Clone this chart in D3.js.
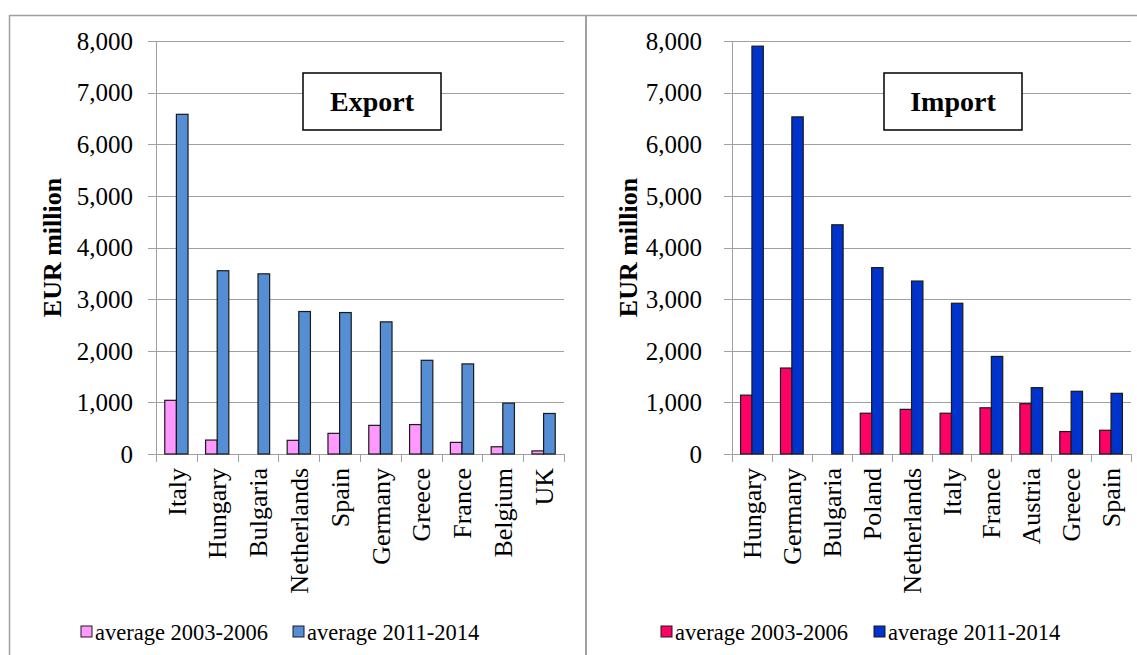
<!DOCTYPE html>
<html>
<head>
<meta charset="utf-8">
<script src="https://cdn.jsdelivr.net/npm/d3@7"></script>
<style>
  html, body { margin: 0; padding: 0; background: #fff; }
  svg { display: block; }
  text { font-family: "Liberation Serif", "Times New Roman", serif; fill: #000; }
</style>
</head>
<body>
<svg id="chart" width="1137" height="655"></svg>
<script>
// ---------- data ----------
const exportCategories = ["Italy", "Hungary", "Bulgaria", "Netherlands", "Spain", "Germany", "Greece", "France", "Belgium", "UK"];
const exportAvg2003_2006 = [1040, 270, null, 265, 400, 555, 570, 225, 140, 60];
const exportAvg2011_2014 = [6580, 3550, 3490, 2760, 2740, 2560, 1815, 1745, 985, 785];

const importCategories = ["Hungary", "Germany", "Bulgaria", "Poland", "Netherlands", "Italy", "France", "Austria", "Greece", "Spain"];
const importAvg2003_2006 = [1140, 1665, null, 790, 865, 790, 895, 975, 435, 460];
const importAvg2011_2014 = [7900, 6530, 4440, 3610, 3350, 2920, 1890, 1285, 1215, 1175];

const yTicks = [0, 1000, 2000, 3000, 4000, 5000, 6000, 7000, 8000];
const seriesNames = ["average 2003-2006", "average 2011-2014"];
const yTitle = "EUR million";

const svg = d3.select("#chart");

// frame lines (table-like borders)
svg.append("line").attr("x1", 9).attr("x2", 1137).attr("y1", 15.5).attr("y2", 15.5)
  .attr("stroke", "#a0a0a0").attr("stroke-width", 1.5);
svg.append("line").attr("x1", 9.5).attr("x2", 9.5).attr("y1", 15).attr("y2", 655)
  .attr("stroke", "#a0a0a0").attr("stroke-width", 1.5);
svg.append("line").attr("x1", 586).attr("x2", 586).attr("y1", 15).attr("y2", 655)
  .attr("stroke", "#a0a0a0").attr("stroke-width", 2);

function drawPanel(cfg) {
  const x = d3.scaleBand().domain(cfg.categories).range([cfg.x0, cfg.x1]).padding(0);
  const bw = x.bandwidth();
  const barW = bw * 0.285;
  const xs = d3.scaleBand().domain([0, 1]).range([bw / 2 - barW, bw / 2 + barW]).padding(0);
  const y = d3.scaleLinear().domain([0, 8000]).range([454, 41]);

  const g = svg.append("g");

  // gridlines
  g.selectAll("line.grid").data(yTicks).join("line")
    .attr("x1", cfg.x0 - 8).attr("x2", cfg.x1)
    .attr("y1", d => Math.round(y(d)) + 0.5).attr("y2", d => Math.round(y(d)) + 0.5)
    .attr("stroke", "#a0a0a0").attr("stroke-width", 1);

  // y axis line
  g.append("line").attr("x1", cfg.x0 + 0.5).attr("x2", cfg.x0 + 0.5)
    .attr("y1", y(8000)).attr("y2", y(0))
    .attr("stroke", "#a0a0a0").attr("stroke-width", 1);

  // x tick marks (category boundaries)
  const bounds = cfg.categories.map(c => x(c)).concat([cfg.x1]);
  g.selectAll("line.xt").data(bounds).join("line")
    .attr("x1", d => Math.round(d) + 0.5).attr("x2", d => Math.round(d) + 0.5)
    .attr("y1", y(0)).attr("y2", y(0) + 8)
    .attr("stroke", "#a0a0a0").attr("stroke-width", 1);

  // y tick labels
  g.selectAll("text.yl").data(yTicks).join("text")
    .attr("x", cfg.labelX).attr("y", d => y(d))
    .attr("dy", "0.35em").attr("text-anchor", "end")
    .attr("font-size", 25)
    .text(d => d3.format(",")(d));

  // y axis title
  g.append("text")
    .attr("transform", `translate(${cfg.titleX},${(y(0) + y(8000)) / 2}) rotate(-90)`)
    .attr("text-anchor", "middle").attr("dy", "0.35em")
    .attr("font-size", 26).attr("font-weight", "bold")
    .text(yTitle);

  // bars
  const series = [cfg.s1, cfg.s2];
  series.forEach((vals, si) => {
    g.selectAll(null).data(cfg.categories.map((c, i) => ({ c, v: vals[i] })).filter(d => d.v != null))
      .join("rect")
      .attr("x", d => x(d.c) + xs(si))
      .attr("width", xs.bandwidth())
      .attr("y", d => y(d.v))
      .attr("height", d => y(0) - y(d.v))
      .attr("fill", cfg.colors[si])
      .attr("stroke", "#1a1a1a").attr("stroke-width", 1.2);
  });

  // category labels
  g.selectAll("text.cat").data(cfg.categories).join("text")
    .attr("transform", d => `translate(${x(d) + bw / 2},${y(0) + 14}) rotate(-90)`)
    .attr("text-anchor", "end").attr("dy", "0.35em")
    .attr("font-size", 26)
    .text(d => d);

  // title box
  g.append("rect")
    .attr("x", cfg.boxX).attr("y", 73).attr("width", 138).attr("height", 57)
    .attr("fill", "#fff").attr("stroke", "#000").attr("stroke-width", 1.5);
  g.append("text")
    .attr("x", cfg.boxX + 69).attr("y", 101.5).attr("dy", "0.35em")
    .attr("text-anchor", "middle").attr("font-size", 28).attr("font-weight", "bold")
    .text(cfg.title);

  // legend
  seriesNames.forEach((name, i) => {
    const lx = cfg.legendX[i];
    g.append("rect").attr("x", lx).attr("y", 626).attr("width", 11).attr("height", 11)
      .attr("fill", cfg.colors[i]).attr("stroke", "#1a1a1a").attr("stroke-width", 1);
    g.append("text").attr("x", lx + 14).attr("y", 632).attr("dy", "0.35em")
      .attr("font-size", 22.5).text(name);
  });
}

drawPanel({
  categories: exportCategories, s1: exportAvg2003_2006, s2: exportAvg2011_2014,
  x0: 156, x1: 564, labelX: 133, titleX: 52, boxX: 303,
  colors: ["#ff99ff", "#558ed5"], title: "Export", legendX: [81, 293]
});
drawPanel({
  categories: importCategories, s1: importAvg2003_2006, s2: importAvg2011_2014,
  x0: 732, x1: 1131, labelX: 702, titleX: 628, boxX: 884,
  colors: ["#ff0066", "#0033cc"], title: "Import", legendX: [661, 874]
});
</script>
</body>
</html>
